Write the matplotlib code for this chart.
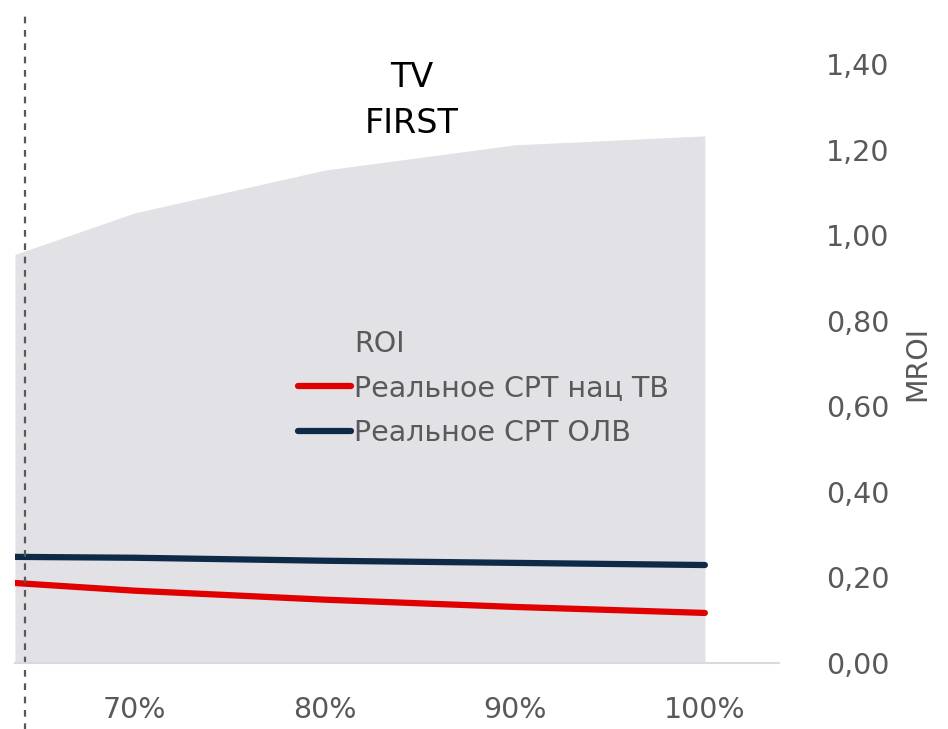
import numpy as np
import matplotlib.pyplot as plt
from matplotlib.ticker import FuncFormatter
from matplotlib.lines import Line2D

plt.rcParams['font.family'] = ['DejaVu Sans']

# данные (доля бюджета, %)
x_share = [63.7, 70, 80, 90, 100]
roi_area = [0.955, 1.052, 1.152, 1.211, 1.232]
cpt_nat_tv = [0.187, 0.169, 0.148, 0.131, 0.117]
cpt_olv = [0.248, 0.246, 0.239, 0.234, 0.229]
x_ticks = [70, 80, 90, 100]
y_ticks = [0.0, 0.2, 0.4, 0.6, 0.8, 1.0, 1.2, 1.4]

grey_txt = "#595959"
red = "#e00000"
navy = "#0e2a47"
fs = 20.5

fig = plt.figure(figsize=(9.48, 7.29), dpi=100)
ax = fig.add_axes([15/948, 66/729, (779-15)/948, (663-64)/729])

ax.fill_between(x_share, 0, roi_area, color="#e1e1e6", lw=0)
ax.plot(x_share, cpt_nat_tv, color=red, lw=4.5, solid_capstyle="round")
ax.plot(x_share, cpt_olv, color=navy, lw=4.5, solid_capstyle="round")

ax.set_xlim(63.7, 103.9)
ax.set_ylim(0, 1.4)

# пунктирная вертикальная линия
ax.axvline(64.2, ymin=-0.12, ymax=1.09, color=grey_txt, ls=(0, (3, 3)), lw=1.6, clip_on=False)

for s in ["top", "left", "right"]:
    ax.spines[s].set_visible(False)
ax.spines["bottom"].set_color("#d9d9d9")
ax.spines["bottom"].set_linewidth(1.5)

ax.yaxis.tick_right()
ax.yaxis.set_label_position("right")
ax.set_yticks(y_ticks)
ax.yaxis.set_major_formatter(FuncFormatter(lambda v, p: ("%.2f" % v).replace(".", ",")))
ax.set_xticks(x_ticks)
ax.set_xticklabels(["%d%%" % v for v in x_ticks])
ax.tick_params(axis="both", length=0, labelsize=fs, colors=grey_txt)
ax.tick_params(axis="y", pad=34)
ax.tick_params(axis="x", pad=24)
ax.set_ylabel("MROI", fontsize=fs, color=grey_txt, labelpad=10)

ax.text(0.519, 0.978, "TV", transform=ax.transAxes, ha="center", va="center",
        fontsize=24, color="black")
ax.text(0.519, 0.900, "FIRST", transform=ax.transAxes, ha="center", va="center",
        fontsize=24, color="black")

handles = [Line2D([], [], color="none"),
           Line2D([], [], color=red, lw=4.5, solid_capstyle="round"),
           Line2D([], [], color=navy, lw=4.5, solid_capstyle="round")]
labels = ["ROI", "Реальное СРТ нац ТВ", "Реальное СРТ ОЛВ"]
leg = ax.legend(handles, labels, loc="upper left", bbox_to_anchor=(0.352, 0.58), frameon=False,
                fontsize=fs, handlelength=1.85, handletextpad=0.12, labelspacing=0.58, borderpad=0)
for t in leg.get_texts():
    t.set_color(grey_txt)

fig.savefig("out.png", dpi=100)
